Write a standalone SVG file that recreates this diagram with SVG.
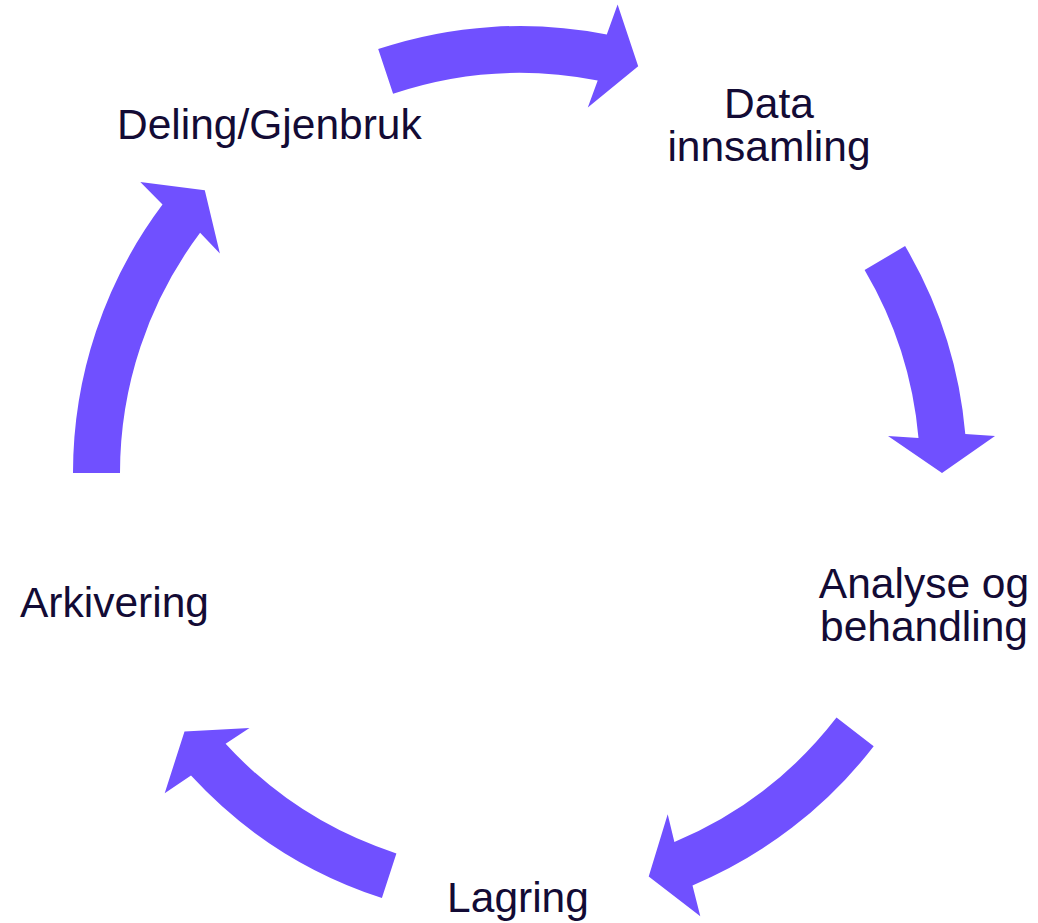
<svg xmlns="http://www.w3.org/2000/svg" width="1038" height="923" viewBox="0 0 1038 923">
<style>
.arrow{fill:#7050ff;stroke:none}
.lbl{font-family:"Liberation Sans",Arial,sans-serif;font-size:42.5px;fill:#130b35}
</style>
<rect width="1038" height="923" fill="#ffffff"/>
<g id="connectors">
<path id="a1" class="arrow" d="M378.2,49.1 A447,447 0 0 1 606.8,34.5 L617.6,4.6 L638.2,66.3 L587.8,107.4 L597.7,80.6 A400,400 0 0 0 393.1,93.7 Z"/>
<path id="a2" class="arrow" d="M905.1,246.1 A447,447 0 0 1 965.3,434.0 L995,436 L942,473 L888,436 L918.5,438.1 A400,400 0 0 0 864.6,270 Z"/>
<path id="a3" class="arrow" d="M873.7,746.3 A447,447 0 0 1 692.5,885.4 L700.3,916.3 L648.7,876.5 L667.7,814.3 L674.4,842.0 A400,400 0 0 0 836.5,717.6 Z"/>
<path id="a4" class="arrow" d="M381.9,898.1 A447,447 0 0 1 191.0,775.6 L164.7,793.3 L184.5,731.4 L249.5,728.1 L225.6,743.8 A400,400 0 0 0 396.4,853.4 Z"/>
<path id="a5" class="arrow" d="M73,473 A447,447 0 0 1 162.5,204.6 L140.3,182.0 L204.8,190.2 L219.9,253.4 L200.1,232.8 A400,400 0 0 0 120,473 Z"/>
</g>
<g id="node-deling"><text class="lbl" x="117" y="139">Deling/Gjenbruk</text></g>
<g id="node-data"><text class="lbl" x="769" y="118" text-anchor="middle">Data</text><text class="lbl" x="769" y="161" text-anchor="middle">innsamling</text></g>
<g id="node-analyse"><text class="lbl" x="924" y="598" text-anchor="middle">Analyse og</text><text class="lbl" x="924" y="641" text-anchor="middle">behandling</text></g>
<g id="node-lagring"><text class="lbl" x="518" y="912" text-anchor="middle">Lagring</text></g>
<g id="node-arkivering"><text class="lbl" x="20" y="617">Arkivering</text></g>
</svg>
